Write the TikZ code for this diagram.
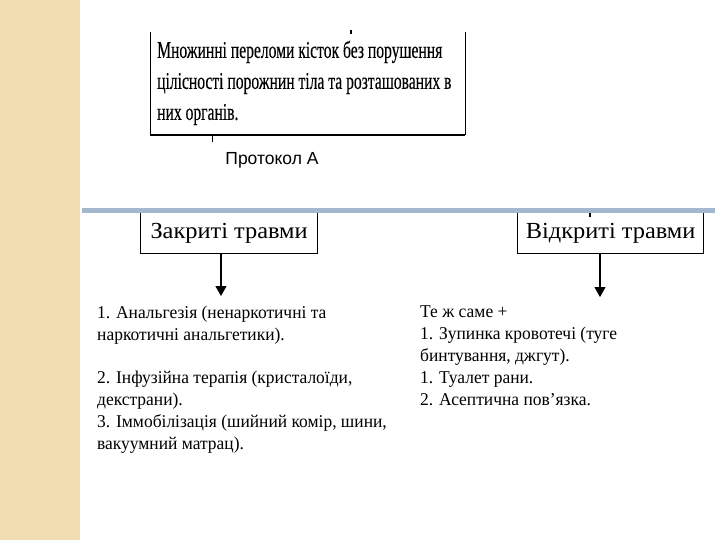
\documentclass[tikz,border=0pt]{standalone}
\usepackage{fontspec}
\setmainfont{Liberation Serif}
\newfontfamily\lsans{Liberation Sans}
\newfontfamily\heavyserif[FakeBold=0.3]{Liberation Serif}
\usetikzlibrary{arrows.meta}
\definecolor{beige}{RGB}{240,222,178}
\definecolor{barblue}{RGB}{163,184,206}
\newcommand{\sqz}[2][0.72]{\scalebox{#1}[1]{\begin{tabular}{@{}l@{}}#2\end{tabular}}}
\tikzset{
  frame/.style={draw=black, line width=1.2pt},
  txt/.style={inner sep=0pt, anchor=north west, text=black},
  boxfont/.style={font=\fontsize{23}{26}\selectfont},
  arr/.style={draw=black, line width=1.2pt, -{Triangle[length=10pt,width=11pt]}},
}
\begin{document}
\begin{tikzpicture}[x=1pt,y=-1pt]
\useasboundingbox (0,0) rectangle (720,540);
\fill[white] (0,0) rectangle (720,540);
\fill[beige] (0,0) rectangle (80,540);
% top box
\node[inner sep=0pt, minimum width=315pt, minimum height=103pt, anchor=north west] (top) at (150,32) {};
\draw[line width=1pt] (top.north west) -- (top.south west);
\draw[line width=1pt] (top.north east) -- (top.south east);
\draw[line width=2pt] (top.south west) -- (top.south east);
\draw[line width=1.2pt] (351,30) -- (351,34);
\node[txt, font=\heavyserif\fontsize{24}{31}\selectfont] (toptext) at (157,36)
  {\sqz[0.65]{Множинні переломи кісток без порушення\\цілісності порожнин тіла та розташованих в\\них органів.}};
\coordinate (tick1) at (212,142);
\draw[line width=1pt] (top.south west -| tick1) -- (tick1);
\node[font=\lsans\fontsize{17.5}{20}\selectfont, inner sep=0pt] (prot) at (272,160) {Протокол А};
% boxes
\node[frame, minimum width=177pt, minimum height=41pt, inner sep=0pt, anchor=north west, boxfont] (closed) at (140,212) {\scalebox{1.06}[1]{Закриті травми}};
\node[frame, minimum width=186pt, minimum height=41pt, inner sep=0pt, anchor=north west, boxfont] (open) at (517,212) {\scalebox{1.06}[1]{Відкриті травми}};
% bar
\fill[barblue] (82,208) rectangle (715,213);
\draw[line width=1.2pt] (590,213) -- (590,217);
% texts
\node[txt, font=\fontsize{18}{22}\selectfont] (lefttext) at (97,303)
  {\sqz[0.97]{1. Анальгезія (ненаркотичні та\\наркотичні анальгетики).\\[21pt]2. Інфузійна терапія (кристалоїди,\\декстрани).\\3. Іммобілізація (шийний комір, шини,\\вакуумний матрац).}};
\node[txt, font=\fontsize{18}{22}\selectfont] (righttext) at (420,302)
  {\sqz[0.97]{Те ж саме +\\1. Зупинка кровотечі (туге\\бинтування, джгут).\\1. Туалет рани.\\2. Асептична пов'язка.}};
\coordinate (la) at (221,296);
\coordinate (ra) at (600,297);
\draw[arr] (closed.south -| la) -- (la);
\draw[arr] (open.south -| ra) -- (ra);
\end{tikzpicture}
\end{document}
